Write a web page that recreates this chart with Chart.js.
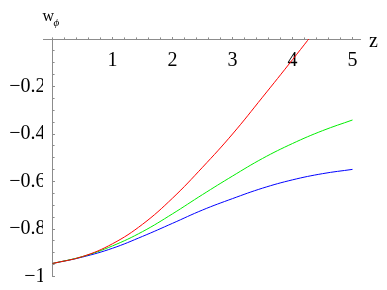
<!DOCTYPE html>
<html><head><meta charset="utf-8">
<script src="https://cdn.jsdelivr.net/npm/chart.js@4"></script>
<style>html,body{margin:0;padding:0;background:#fff}#wrap{width:387px;height:290px}</style>
</head><body><div id="wrap"><canvas id="c" width="387" height="290"></canvas></div>
<script>
// Data
const zValues = [0, 0.5, 1, 1.5, 2, 2.5, 3, 3.5, 4, 4.5, 5];
const redW   = [-0.945, -0.916, -0.862, -0.78, -0.67, -0.54, -0.40, -0.245, -0.087, 0.075, 0.24];
const greenW = [-0.945, -0.916, -0.871, -0.811, -0.736, -0.655, -0.577, -0.503, -0.44, -0.386, -0.341];
const blueW  = [-0.945, -0.918, -0.881, -0.831, -0.776, -0.72, -0.672, -0.628, -0.593, -0.567, -0.549];
const xTickValues = [1, 2, 3, 4, 5];
const xTickLabels = ['1', '2', '3', '4', '5'];
const yTickValues = [-1, -0.8, -0.6, -0.4, -0.2];
const yTickLabels = ['\u22121', '\u22120.8', '\u22120.6', '\u22120.4', '\u22120.2'];
const xAxisTitle = 'z';
const yAxisTitle = 'w';
const yAxisSub = '\u03D5';

const AXIS = '#8c8c8c';
const FONT = {family: '"Liberation Serif", "Times New Roman", serif', size: 20};

function pts(arr){ return zValues.map((z, i) => ({x: z, y: arr[i]})); }
function lookup(vals, labels, v){
  for (let i = 0; i < vals.length; i++) if (Math.abs(vals[i] - v) < 1e-6) return labels[i];
  return null;
}

const axisTitles = {
  id: 'axisTitles',
  afterDraw(chart){
    const ctx = chart.ctx;
    const xs = chart.scales.x, ys = chart.scales.y;
    ctx.save();
    ctx.fillStyle = '#000';
    ctx.textBaseline = 'alphabetic';
    ctx.textAlign = 'left';
    ctx.font = '20px "Liberation Serif", serif';
    ctx.fillText(xAxisTitle, xs.right + 9, ys.getPixelForValue(0) + 8);
    const x0 = xs.getPixelForValue(0);
    ctx.font = '16px "Liberation Serif", serif';
    ctx.fillText(yAxisTitle, x0 - 10, 21);
    ctx.font = 'italic 11px "Liberation Serif", serif';
    ctx.fillText(yAxisSub, x0 + 1, 26);
    ctx.restore();
  }
};

const line = (data, color) => ({
  data: pts(data), borderColor: color, borderWidth: 1, pointRadius: 0,
  fill: false, tension: 0.4, clip: 0,
  xAxisID: 'x', yAxisID: 'y'
});

new Chart(document.getElementById('c'), {
  type: 'line',
  data: { datasets: [ line(redW, '#ff0000'), line(greenW, '#00ee00'), line(blueW, '#0000ff') ] },
  options: {
    responsive: false, animation: false, devicePixelRatio: 1,
    layout: { padding: {left: 0, right: 27, top: 39, bottom: 13.5} },
    plugins: { legend: {display: false}, tooltip: {enabled: false}, title: {display: false} },
    scales: {
      yLabels: {
        type: 'linear', position: 'left', min: -1, max: 0,
        afterFit(s){ s.width = 43; },
        grid: {display: false, drawTicks: false},
        border: {display: false},
        ticks: { stepSize: 0.2, includeBounds: false, autoSkip: false, padding: -2.5, font: FONT, color: '#000',
          callback: v => lookup(yTickValues, yTickLabels, v) }
      },
      x: {
        type: 'linear', position: {y: 0}, min: -0.16, max: 5.125,
        grid: {display: true, drawOnChartArea: false, drawTicks: true, tickLength: -3, tickColor: AXIS, tickWidth: 1},
        border: {display: true, color: AXIS, width: 1},
        ticks: { stepSize: 1, includeBounds: false, autoSkip: false, maxRotation: 0, padding: 13, font: FONT, color: '#000',
          callback: v => lookup(xTickValues, xTickLabels, v) }
      },
      xMinor: {
        type: 'linear', position: {y: 0}, min: -0.16, max: 5.125,
        grid: {display: true, drawOnChartArea: false, drawTicks: true, tickLength: -1.6, tickColor: AXIS, tickWidth: 1},
        border: {display: false},
        ticks: { stepSize: 0.2, includeBounds: false, autoSkip: false, maxRotation: 0, font: {size: 1}, callback: v => (v >= 0 ? '' : null) }
      },
      y: {
        type: 'linear', position: {x: 0}, min: -1, max: 0,
        grid: {display: true, drawOnChartArea: false, drawTicks: true, tickLength: -3, tickColor: AXIS, tickWidth: 1},
        border: {display: true, color: AXIS, width: 1},
        ticks: { stepSize: 0.2, includeBounds: false, autoSkip: false, font: {size: 1}, callback: v => (v < -1e-6 ? '' : null) }
      },
      yMinor: {
        type: 'linear', position: {x: 0}, min: -1, max: 0,
        grid: {display: true, drawOnChartArea: false, drawTicks: true, tickLength: -1.6, tickColor: AXIS, tickWidth: 1},
        border: {display: false},
        ticks: { stepSize: 0.05, includeBounds: false, autoSkip: false, font: {size: 1}, callback: v => (v < -1e-6 ? '' : null) }
      }
    }
  },
  plugins: [axisTitles]
});
</script></body></html>
